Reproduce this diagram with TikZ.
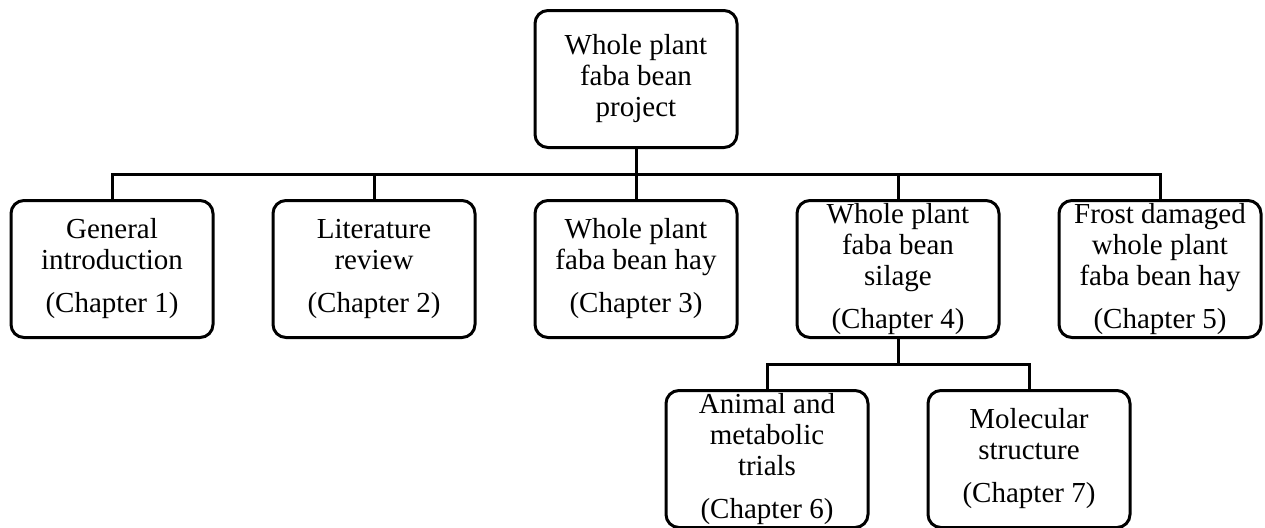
\documentclass[tikz,border=0pt]{standalone}
\usepackage{fontspec}
\setmainfont{Liberation Serif}
\usetikzlibrary{positioning}

\begin{document}
\begin{tikzpicture}[
    node distance=26.5pt and 30pt,
    every node/.style={font=\fontsize{14.5pt}{15.5pt}\selectfont},
    box/.style={draw, line width=1.5pt, rounded corners=6.5pt, align=center,
        minimum width=101pt, minimum height=68.5pt, inner sep=1pt, outer sep=0pt},
    link/.style={draw, line width=1.5pt}
]
    \useasboundingbox (0,0) rectangle (632.5pt,-263.5pt);

    \node[box] (top) at (318pt,-39.5pt) {Whole plant\\faba bean\\project};

    \node[box, below=of top]  (ch3) {Whole plant\\faba bean hay\\[6pt](Chapter 3)};
    \node[box, left=of ch3]   (ch2) {Literature\\review\\[6pt](Chapter 2)};
    \node[box, left=of ch2]   (ch1) {General\\introduction\\[6pt](Chapter 1)};
    \node[box, right=of ch3]  (ch4) {Whole plant\\faba bean\\silage\\[6pt](Chapter 4)};
    \node[box, right=of ch4]  (ch5) {Frost damaged\\whole plant\\faba bean hay\\[6pt](Chapter 5)};

    \node[box, below=of ch4, xshift=-65.5pt] (ch6) {Animal and\\metabolic\\trials\\[6pt](Chapter 6)};
    \node[box, below=of ch4, xshift=65.5pt]  (ch7) {Molecular\\structure\\[6pt](Chapter 7)};

    \foreach \c in {ch1,ch2,ch3,ch4,ch5}
        \draw[link] (top.south) |- ([yshift=13.25pt]\c.north) -- (\c.north);
    \foreach \c in {ch6,ch7}
        \draw[link] (ch4.south) |- ([yshift=13.25pt]\c.north) -- (\c.north);
\end{tikzpicture}
\end{document}
